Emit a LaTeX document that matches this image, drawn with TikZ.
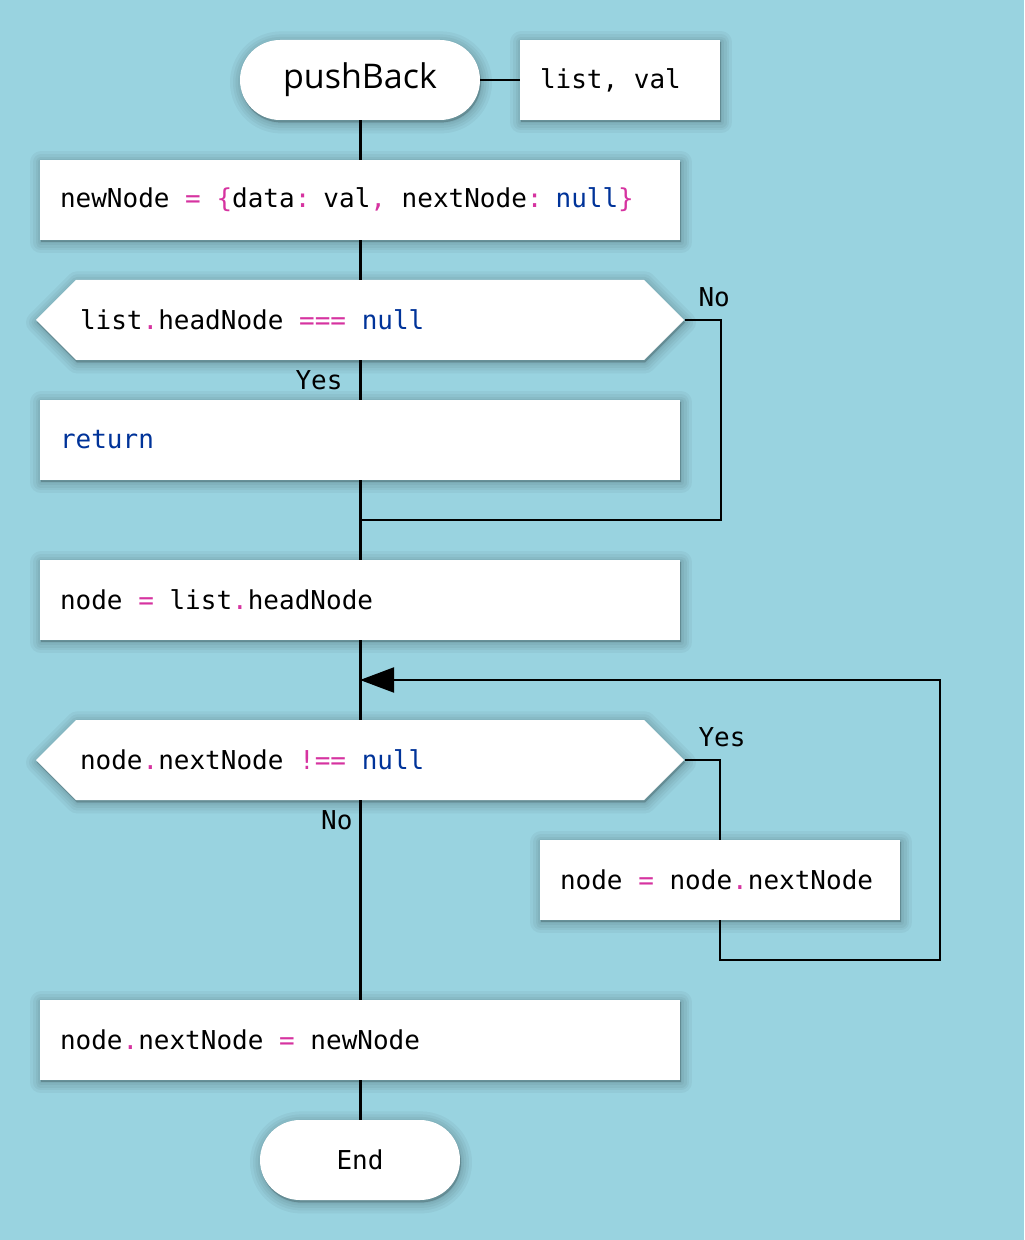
\documentclass[tikz,border=0pt]{standalone}
\usepackage{fontspec}
\setmonofont{DejaVu Sans Mono}
\newfontfamily\titlefont{Open Sans}
\usetikzlibrary{shapes.misc, shapes.symbols, arrows.meta, shadows}
\definecolor{bgblue}{RGB}{153,211,224}
\definecolor{codepink}{RGB}{214,51,160}
\definecolor{codeblue}{RGB}{0,51,153}
\newcommand{\op}[1]{\textcolor{codepink}{#1}}
\newcommand{\kw}[1]{\textcolor{codeblue}{#1}}

\tikzset{
	codefont/.style = {font=\ttfamily\fontsize{13pt}{15pt}\selectfont, execute at begin node={\spaceskip=0.602em\relax}},
	shadowring/.style = {general shadow={fill=black, draw=black, line join=round, line width=#1, opacity=0.04, shadow xshift=0.5pt, shadow yshift=-1.2pt}},
	softshadow/.style = {shadowring=11pt, shadowring=8pt, shadowring=5.5pt, shadowring=3pt, shadowring=1pt},
	box/.style = {rectangle, fill=white, codefont, minimum height=40pt, text width=#1, inner xsep=10pt, inner ysep=0pt, align=left, softshadow},
	box/.default = 300pt,
	term/.style = {rounded rectangle, fill=white, codefont, minimum height=40pt, minimum width=#1, inner sep=0pt, softshadow},
	term/.default = 100pt,
	decision/.style = {signal, signal to=west and east, signal pointer angle=90, fill=white, codefont, minimum height=40pt, text width=280pt, inner xsep=2pt, inner ysep=0pt, align=left, softshadow},
	lbl/.style = {codefont, inner sep=0pt},
	mainline/.style = {line width=1.5pt},
	sideline/.style = {line width=1pt}
}

\begin{document}
\begin{tikzpicture}[x=0.5pt, y=-0.5pt, > = {Triangle[length=17pt, width=12.5pt]}]
	\path [use as bounding box, fill=bgblue] (0,0) rectangle (1024,1240);

	\node [term=120pt, font=\titlefont\fontsize{17pt}{20pt}\selectfont] (start) at (360,80) {pushBack};
	\node [box=80pt] (par) at (620,80) {list, val};
	\node [box] (init) at (360,200) {newNode \op{=} \op{\{}data\op{:} val\op{,} nextNode\op{:} \kw{null}\op{\}}};
	\node [decision] (chk) at (360,320) {list\op{.}headNode \op{===} \kw{null}};
	\node [box] (ret) at (360,440) {\kw{return}};
	\node [box] (set) at (360,600) {node \op{=} list\op{.}headNode};
	\node [decision] (loop) at (360,760) {node\op{.}nextNode \op{!==} \kw{null}};
	\node [box=160pt] (step) at (720,880) {node \op{=} node\op{.}nextNode};
	\node [box] (link) at (360,1040) {node\op{.}nextNode \op{=} newNode};
	\node [term] (stop) at (360,1160) {End};

	\coordinate (merge) at (360,520);
	\coordinate (back) at (360,680);

	\draw [sideline] (start.east) -- (par.west);

	\draw [mainline] (start.south) -- (init.north);
	\draw [mainline] (init.south) -- (chk.north);
	\draw [mainline] (chk.south) node [lbl, anchor=north east, xshift=-8pt, yshift=-4.5pt] {Yes} -- (ret.north);
	\draw [mainline] (ret.south) -- (set.north);
	\draw [mainline] (set.south) -- (loop.north);
	\draw [mainline] (loop.south) node [lbl, anchor=north east, xshift=-3pt, yshift=-4.5pt] {No} -- (link.north);
	\draw [mainline] (link.south) -- (stop.north);

	% branches
	\draw [sideline] (chk.east) node [lbl, anchor=south west, xshift=6.5pt, yshift=6pt] {No} -- ++(36,0) |- (merge);
	\draw [sideline] (loop.east) node [lbl, anchor=south west, xshift=6.5pt, yshift=6pt] {Yes} -| (step.north);
	\draw [sideline, ->] (step.south) |- ++(220,40) |- (back);
\end{tikzpicture}
\end{document}
